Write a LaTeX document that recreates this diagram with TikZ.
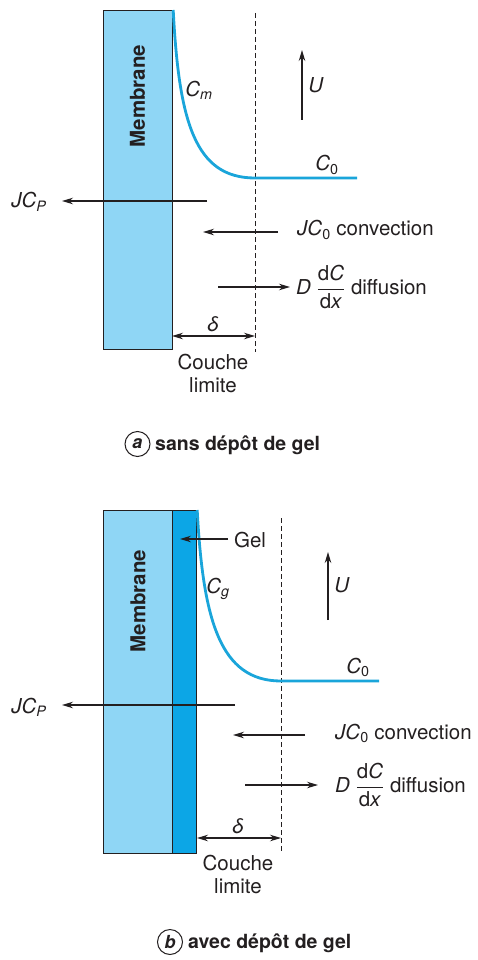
\documentclass[tikz,border=0pt]{standalone}
\usepackage{fontspec}
\setmainfont{TeX Gyre Heros}
\usetikzlibrary{arrows.meta}
\definecolor{memb}{HTML}{8FD6F5}
\definecolor{gelc}{HTML}{0CA6E6}
\definecolor{curvec}{HTML}{1AA5DA}
\definecolor{ink}{HTML}{231F20}
\newcommand\vr[1]{\textit{#1}}
\begin{document}
\begin{tikzpicture}[x=1pt,y=-1pt,
  every node/.style={font=\fontsize{20.5}{23}\selectfont, text=ink, inner sep=0pt},
  box/.style={draw=ink, line width=1.2pt, anchor=north west, inner sep=0pt},
  flux/.style={draw=ink, line width=1.2pt, -{Stealth[length=11pt,width=6.5pt]}},
  dim/.style={draw=ink, line width=1.2pt, {Stealth[length=11pt,width=6.5pt]}-{Stealth[length=11pt,width=6.5pt]}},
  bound/.style={draw=ink, line width=1pt, dash pattern=on 5pt off 3pt},
  conc/.style={draw=curvec, line width=2.8pt},
  mlabel/.style={font=\fontsize{20.5}{24}\selectfont\bfseries, rotate=90},
  caplbl/.style={font=\fontsize{19.5}{22}\selectfont\bfseries, anchor=west},
  circ/.style={draw=ink, circle, line width=1pt, minimum size=25pt, font=\fontsize{18}{20}\selectfont\bfseries\itshape}
]
\useasboundingbox (0,0) rectangle (477,960);
% ---------------- (a) ----------------
\node[box, fill=memb, minimum width=69pt, minimum height=339pt] (membA) at (103,10) {};
\node[mlabel] (mlA) at (137.5,96) {Membrane};
\coordinate (dAt) at (255,13);
\coordinate (dAb) at (255,352);
\draw[bound] (dAt) -- (dAb);
\coordinate (c0A) at (255,178);
\coordinate (c0eA) at (357,178);
\draw[conc] (membA.north east) .. controls (179,122) and (195,178) .. (c0A) -- (c0eA);
\node (cmA) at (199,90) {\vr{C}\textsubscript{\vr{m}}};
\node (c0lA) at (327,165) {\vr{C}\textsubscript{0}};
\coordinate (uAb) at (302,120);
\coordinate (uAt) at (302,50);
\draw[flux] (uAb) -- (uAt);
\node (uA) at (316,85) {\vr{U}};
\coordinate (jpAs) at (207,201);
\coordinate (jpAe) at (62,201);
\node (jpA) at (29,202) {\vr{JC}\textsubscript{\vr{P}}};
\draw[flux] (jpAs) -- (jpAe);
\coordinate (jcAs) at (278,232);
\coordinate (jcAe) at (203,232);
\draw[flux] (jcAs) -- (jcAe);
\node[anchor=west] (jcA) at (297,230) {\vr{JC}\textsubscript{0} convection};
\coordinate (dfAs) at (218,287);
\coordinate (dfAe) at (290,287);
\draw[flux] (dfAs) -- (dfAe);
\node[anchor=west] (dfA) at (296,287) {\vr{D} $\displaystyle\frac{\hbox{d\vr{C}}}{\hbox{d\vr{x}}}$ diffusion};
\coordinate (dlAl) at (172,336);
\coordinate (dlAr) at (255,336);
\draw[dim] (dlAl) -- (dlAr);
\node (deltaA) at (213,324) {\vr{δ}};
\node[align=center] (clA) at (213,373) {Couche\\limite};
\node[circ] (capcA) at (137.5,444) {a};
\node[caplbl] (captA) at (155,445) {sans dépôt de gel};
% ---------------- (b) ----------------
\node[box, fill=memb, minimum width=69pt, minimum height=343pt] (membB) at (103,510) {};
\node[box, fill=gelc, minimum width=24pt, minimum height=343pt] (gelB) at (172,510) {};
\node[mlabel] (mlB) at (138,601) {Membrane};
\coordinate (dBt) at (281,518);
\coordinate (dBb) at (281,853);
\draw[bound] (dBt) -- (dBb);
\coordinate (c0B) at (281,681);
\coordinate (c0eB) at (379,681);
\draw[conc] (gelB.north east) .. controls (203,620) and (220,681) .. (c0B) -- (c0eB);
\node (gelL) at (250,540) {Gel};
\coordinate (gAs) at (228,539);
\coordinate (gAe) at (180,539);
\draw[flux] (gAs) -- (gAe);
\node (cgB) at (218,589) {\vr{C}\textsubscript{\vr{g}}};
\node (c0lB) at (358,667) {\vr{C}\textsubscript{0}};
\coordinate (uBb) at (328,620);
\coordinate (uBt) at (328,552);
\draw[flux] (uBb) -- (uBt);
\node (uB) at (342,585) {\vr{U}};
\coordinate (jpBs) at (235,705);
\coordinate (jpBe) at (62,705);
\node (jpB) at (29,707) {\vr{JC}\textsubscript{\vr{P}}};
\draw[flux] (jpBs) -- (jpBe);
\coordinate (jcBs) at (305,735);
\coordinate (jcBe) at (233,735);
\draw[flux] (jcBs) -- (jcBe);
\node[anchor=west] (jcB) at (335,733) {\vr{JC}\textsubscript{0} convection};
\coordinate (dfBs) at (245,785);
\coordinate (dfBe) at (318,785);
\draw[flux] (dfBs) -- (dfBe);
\node[anchor=west] (dfB) at (335,785) {\vr{D} $\displaystyle\frac{\hbox{d\vr{C}}}{\hbox{d\vr{x}}}$ diffusion};
\coordinate (dlBl) at (197,838);
\coordinate (dlBr) at (281,838);
\draw[dim] (dlBl) -- (dlBr);
\node (deltaB) at (238,826) {\vr{δ}};
\node[align=center] (clB) at (238,874) {Couche\\limite};
\node[circ] (capcB) at (170,942) {b};
\node[caplbl] (captB) at (188,943) {avec dépôt de gel};
\end{tikzpicture}
\end{document}
